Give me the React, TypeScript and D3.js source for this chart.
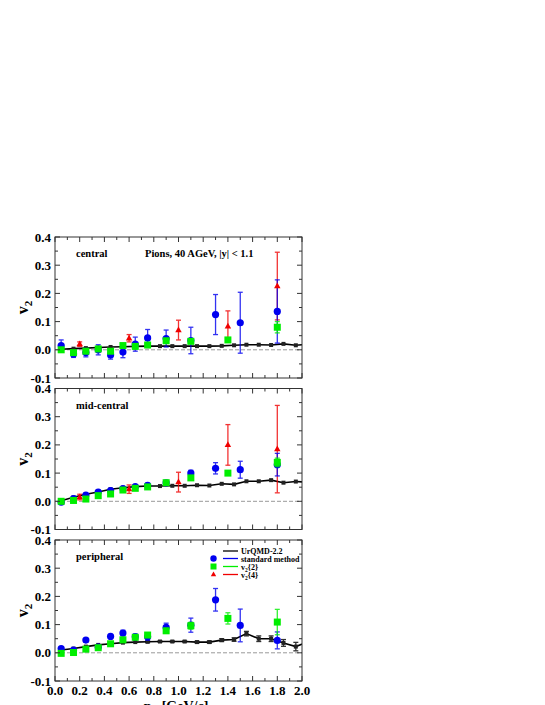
import React from 'react';
import * as d3 from 'd3';

// UrQMD model curve (pT bin centres)
const modelPt = [0.05, 0.15, 0.25, 0.35, 0.45, 0.55, 0.65, 0.75, 0.85, 0.95, 1.05, 1.15, 1.25, 1.35, 1.45, 1.55, 1.65, 1.75, 1.85, 1.95, 2.05];
const centralModel = [0.002, 0.004, 0.006, 0.008, 0.01, 0.011, 0.012, 0.013, 0.013, 0.013, 0.013, 0.013, 0.013, 0.014, 0.016, 0.018, 0.018, 0.017, 0.021, 0.016, 0.02];
const midModel = [0.002, 0.014, 0.025, 0.033, 0.043, 0.048, 0.052, 0.054, 0.054, 0.055, 0.055, 0.057, 0.056, 0.062, 0.06, 0.071, 0.071, 0.075, 0.066, 0.07, 0.068];
const periphModel = [0.01, 0.015, 0.022, 0.028, 0.032, 0.036, 0.038, 0.039, 0.04, 0.04, 0.04, 0.038, 0.038, 0.045, 0.047, 0.068, 0.05, 0.05, 0.035, 0.022, 0.04];
const periphModelErr = [0, 0, 0, 0, 0, 0, 0, 0.003, 0.002, 0.002, 0.002, 0.003, 0.004, 0.005, 0.006, 0.008, 0.01, 0.01, 0.012, 0.015, 0];

// standard method
const stdPt = [0.05, 0.15, 0.25, 0.35, 0.45, 0.55, 0.65, 0.75, 0.9, 1.1, 1.3, 1.5, 1.8];
const centralStd = [0.015, -0.015, -0.01, 0.0, -0.018, -0.008, 0.02, 0.042, 0.04, 0.033, 0.125, 0.096, 0.136];
const centralStdErr = [0.02, 0.012, 0.015, 0.018, 0.015, 0.02, 0.025, 0.03, 0.03, 0.047, 0.071, 0.108, 0.112];
const midStd = [-0.003, 0.01, 0.022, 0.033, 0.038, 0.045, 0.052, 0.057, 0.065, 0.1, 0.117, 0.112, 0.13];
const midStdErr = [0.005, 0.005, 0.006, 0.006, 0.006, 0.006, 0.006, 0.007, 0.008, 0.01, 0.02, 0.03, 0.04];
const periphStd = [0.015, 0.01, 0.045, 0.02, 0.058, 0.07, 0.057, 0.057, 0.09, 0.098, 0.188, 0.097, 0.044];
const periphStdErr = [0.005, 0.005, 0.006, 0.006, 0.007, 0.01, 0.01, 0.012, 0.015, 0.025, 0.04, 0.058, 0.03];

// v2{2}
const c2Pt = [0.05, 0.15, 0.25, 0.35, 0.45, 0.55, 0.65, 0.75, 0.9, 1.1, 1.4, 1.8];
const centralC2 = [0.0, -0.01, -0.005, 0.003, -0.005, 0.015, 0.012, 0.017, 0.032, 0.03, 0.035, 0.08];
const centralC2Err = [0.004, 0.004, 0.004, 0.004, 0.004, 0.004, 0.004, 0.004, 0.005, 0.005, 0.006, 0.02];
const midC2 = [0.0, 0.003, 0.008, 0.02, 0.026, 0.04, 0.046, 0.051, 0.066, 0.083, 0.1, 0.138];
const midC2Err = [0.003, 0.003, 0.003, 0.003, 0.003, 0.003, 0.004, 0.004, 0.004, 0.005, 0.006, 0.015];
const periphC2 = [-0.002, 0.001, 0.013, 0.018, 0.032, 0.046, 0.055, 0.063, 0.078, 0.096, 0.122, 0.109];
const periphC2Err = [0.003, 0.003, 0.003, 0.003, 0.004, 0.004, 0.005, 0.006, 0.008, 0.012, 0.02, 0.045];

// v2{4}
const c4Pt = [0.2, 0.6, 1.0, 1.4, 1.8];
const centralC4 = [0.02, 0.041, 0.07, 0.083, 0.226];
const centralC4Err = [0.008, 0.013, 0.035, 0.055, 0.12];
const midC4 = [0.015, 0.043, 0.068, 0.2, 0.185];
const midC4Err = [0.01, 0.015, 0.035, 0.072, 0.155];

const xTicks = [0, 0.2, 0.4, 0.6, 0.8, 1.0, 1.2, 1.4, 1.6, 1.8, 2.0];
const yTicks = [-0.1, 0, 0.1, 0.2, 0.3, 0.4];
const panelLabels = ['central', 'mid-central', 'peripheral'];
const legendLabels = ['UrQMD-2.2', 'standard method', 'v2{2}', 'v2{4}'];

const BLUE = '#0000f0';
const GREEN = '#00ee00';
const RED = '#f00000';
const FONT = '"Liberation Serif", "Times New Roman", serif';

type Pts = { x: number[]; y: number[]; e: number[] };

const panels: { label: string; model: Pts; std: Pts; c2: Pts; c4: Pts | null }[] = [
  {
    label: panelLabels[0],
    model: { x: modelPt, y: centralModel, e: [] },
    std: { x: stdPt, y: centralStd, e: centralStdErr },
    c2: { x: c2Pt, y: centralC2, e: centralC2Err },
    c4: { x: c4Pt, y: centralC4, e: centralC4Err },
  },
  {
    label: panelLabels[1],
    model: { x: modelPt, y: midModel, e: [] },
    std: { x: stdPt, y: midStd, e: midStdErr },
    c2: { x: c2Pt, y: midC2, e: midC2Err },
    c4: { x: c4Pt, y: midC4, e: midC4Err },
  },
  {
    label: panelLabels[2],
    model: { x: modelPt, y: periphModel, e: periphModelErr },
    std: { x: stdPt, y: periphStd, e: periphStdErr },
    c2: { x: c2Pt, y: periphC2, e: periphC2Err },
    c4: null,
  },
];

const left = 55;
const right = 302;
const panelTops = [237, 388.5, 540];
const panelH = 141;

function ErrBars({ d, x, y, color, cap = 2.5 }: { d: Pts; x: any; y: any; color: string; cap?: number }) {
  return (
    <g stroke={color} strokeWidth={1.3} opacity={0.8}>
      {d.x.map((v, i) => {
        const e = d.e[i] || 0;
        if (e <= 0) return null;
        const cx = x(v);
        const y1 = y(d.y[i] + e);
        const y2 = y(d.y[i] - e);
        return (
          <g key={i}>
            <line x1={cx} x2={cx} y1={y1} y2={y2} />
            <line x1={cx - cap} x2={cx + cap} y1={y1} y2={y1} />
            <line x1={cx - cap} x2={cx + cap} y1={y2} y2={y2} />
          </g>
        );
      })}
    </g>
  );
}

function tri(cx: number, cy: number, s: number) {
  return `M${cx},${cy - s}L${cx + s * 0.9},${cy + s * 0.6}L${cx - s * 0.9},${cy + s * 0.6}Z`;
}

function Panel({ p, top, idx }: { p: (typeof panels)[0]; top: number; idx: number }) {
  const x = d3.scaleLinear().domain([0, 2]).range([left, right]);
  const y = d3.scaleLinear().domain([-0.1, 0.4]).range([top + panelH, top]);
  const line = d3
    .line<number>()
    .x((d, i) => x(p.model.x[i]))
    .y((d) => y(d));
  const clipId = `clip${idx}`;
  const xMinor = d3.range(0, 2.001, 0.1);
  const yMinor = d3.range(-0.1, 0.401, 0.05);
  const isLast = idx === 2;
  return (
    <g>
      <defs>
        <clipPath id={clipId}>
          <rect x={left} y={top} width={right - left} height={panelH} />
        </clipPath>
      </defs>
      <line x1={left} x2={right} y1={y(0)} y2={y(0)} stroke="#999" strokeDasharray="4,2" strokeWidth={1} />
      <g clipPath={`url(#${clipId})`}>
        <path d={line(p.model.y) || ''} fill="none" stroke="#000" strokeWidth={1.6} />
        <ErrBars d={p.model} x={x} y={y} color="#000" cap={2.5} />
        {p.model.x.map((v, i) => (
          <rect key={i} x={x(v) - 2} y={y(p.model.y[i]) - 2} width={4} height={4} fill="#222" />
        ))}
      </g>
      {p.c4 && <ErrBars d={p.c4} x={x} y={y} color={RED} />}
      <ErrBars d={p.std} x={x} y={y} color={BLUE} />
      {p.c4 && p.c4.x.map((v, i) => <path key={i} d={tri(x(v), y(p.c4!.y[i]), 3.6)} fill={RED} />)}
      {p.std.x.map((v, i) => (
        <circle key={i} cx={x(v)} cy={y(p.std.y[i])} r={3.6} fill={BLUE} />
      ))}
      <ErrBars d={p.c2} x={x} y={y} color={GREEN} />
      {p.c2.x.map((v, i) => (
        <rect key={i} x={x(v) - 3.5} y={y(p.c2.y[i]) - 3.5} width={7} height={7} fill={GREEN} />
      ))}
      {/* frame + ticks */}
      <rect x={left} y={top} width={right - left} height={panelH} fill="none" stroke="#333" strokeWidth={1} />
      <g stroke="#333" strokeWidth={1}>
        {xMinor.map((v, i) => {
          const len = i % 2 === 0 ? 5 : 3;
          return (
            <g key={i}>
              <line x1={x(v)} x2={x(v)} y1={top + panelH} y2={top + panelH - len} />
              <line x1={x(v)} x2={x(v)} y1={top} y2={top + len} />
            </g>
          );
        })}
        {yMinor.map((v, i) => {
          const len = i % 2 === 0 ? 5 : 3;
          return (
            <g key={i}>
              <line x1={left} x2={left + len} y1={y(v)} y2={y(v)} />
              <line x1={right} x2={right - len} y1={y(v)} y2={y(v)} />
            </g>
          );
        })}
      </g>
      <g fontFamily={FONT} fontWeight="bold" fontSize={13} fill="#000">
        {yTicks.map((v) => (
          <text key={v} x={left - 4} y={y(v) + 4.5} textAnchor="end">
            {v.toFixed(1)}
          </text>
        ))}
        {isLast &&
          xTicks.map((v) => (
            <text key={v} x={x(v)} y={top + panelH + 13.5} textAnchor="middle">
              {v.toFixed(1)}
            </text>
          ))}
      </g>
      <text
        transform={`translate(28,${top + panelH / 2}) rotate(-90)`}
        fontFamily={FONT}
        fontWeight="bold"
        fontSize={16}
        textAnchor="middle"
      >
        v<tspan fontSize={11} dy={4}>2</tspan>
      </text>
      <text x={76} y={top + 20} fontFamily={FONT} fontWeight="bold" fontSize={10.5}>
        {p.label}
      </text>
      {idx === 0 && (
        <text x={145} y={top + 20} fontFamily={FONT} fontWeight="bold" fontSize={10.5}>
          Pions, 40 AGeV, |y| &lt; 1.1
        </text>
      )}
    </g>
  );
}

function Legend() {
  const rows = [551, 558.5, 566.5, 574.5];
  const colors = ['#000', BLUE, GREEN, RED];
  return (
    <g fontFamily={FONT} fontWeight="bold" fontSize={8}>
      {legendLabels.map((l, i) => {
        const cy = rows[i];
        return (
          <g key={i}>
            {i === 1 && <circle cx={213.5} cy={cy} r={3.2} fill={BLUE} />}
            {i === 2 && <rect x={210.5} y={cy - 3} width={6} height={6} fill={GREEN} />}
            {i === 3 && <path d={tri(213.5, cy, 3)} fill={RED} />}
            <line x1={223} x2={238} y1={cy} y2={cy} stroke={colors[i]} strokeWidth={1.3} />
            <text x={241} y={cy + 3}>
              {i >= 2 ? (
                <>
                  v<tspan fontSize={5.5} dy={2}>2</tspan>
                  <tspan dy={-2}>{l.slice(2)}</tspan>
                </>
              ) : (
                l
              )}
            </text>
          </g>
        );
      })}
    </g>
  );
}

export default function App() {
  return (
    <svg width={545} height={705} style={{ position: 'absolute', left: 0, top: 0, background: '#fff' }}>
      {panels.map((p, i) => (
        <Panel key={i} p={p} top={panelTops[i]} idx={i} />
      ))}
      <Legend />
      <text x={176} y={711} fontFamily={FONT} fontWeight="bold" fontSize={14} textAnchor="middle">
        p<tspan fontSize={10} dy={3}>T</tspan>
        <tspan dy={-3}> [GeV/c]</tspan>
      </text>
    </svg>
  );
}
